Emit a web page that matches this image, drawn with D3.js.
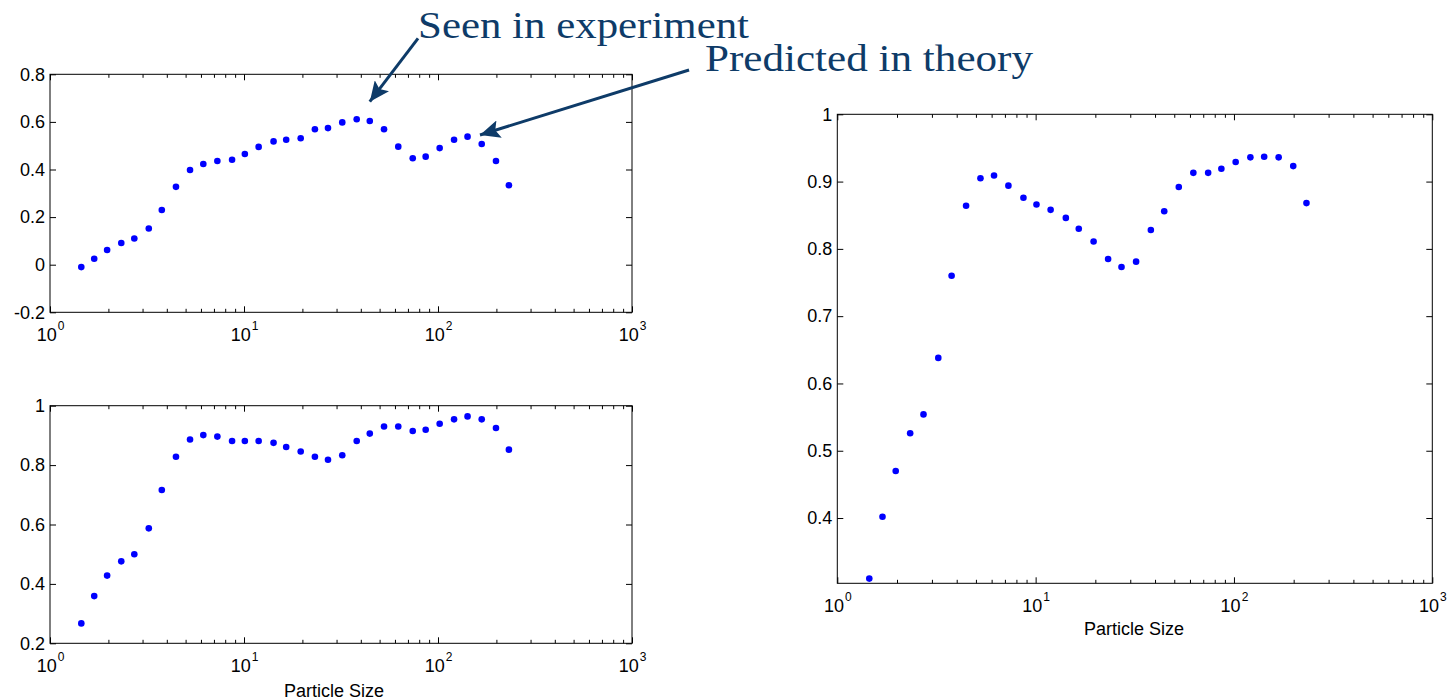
<!DOCTYPE html>
<html lang="en">
<head>
<meta charset="UTF-8">
<title>Particle Size</title>
<script src="https://d3js.org/d3.v7.min.js"></script>
<style>
    body{ margin:0; background:#fff; }
    .tick text, .xlabel{
        font-family: "Liberation Sans", Arial, sans-serif;
        fill:#000;
    }
    .tick line{ stroke:#000; stroke-width:1; }
    .domain{ display:none; }
    .frame{ fill:none; stroke:#000; stroke-width:1; }
    .dot{ fill:#0000ff; }
    .note{ font-family: "Liberation Serif", "Times New Roman", serif; fill:#0e3b68; }
</style>
</head>
<body>
<svg width="1447" height="700"></svg>
<script>
    // particle sizes (shared by all three panels)
    const sizes = [1.45, 1.69, 1.97, 2.33, 2.72, 3.23, 3.77, 4.46, 5.27, 6.17, 7.29, 8.68,
        10.1, 11.9, 14.2, 16.5, 19.6, 23.2, 27.1, 32.1, 38.1, 44.5, 52.7, 62.4, 74.1, 86.4,
        102, 121, 142, 168, 199, 232]

    // top left panel
    const topValues = [-0.01, 0.025, 0.062, 0.091, 0.11, 0.152, 0.23, 0.327, 0.398, 0.423, 0.436, 0.441,
        0.465, 0.495, 0.518, 0.525, 0.531, 0.569, 0.574, 0.598, 0.611, 0.604, 0.569, 0.496, 0.447, 0.454,
        0.49, 0.525, 0.538, 0.507, 0.436, 0.334]

    // bottom left panel
    const bottomValues = [0.267, 0.359, 0.428, 0.476, 0.50, 0.587, 0.716, 0.828, 0.886, 0.901, 0.896, 0.881,
        0.881, 0.881, 0.875, 0.861, 0.846, 0.828, 0.818, 0.833, 0.881, 0.906, 0.93, 0.93, 0.915, 0.919,
        0.939, 0.954, 0.964, 0.954, 0.925, 0.852]

    // right panel
    const rightValues = [0.310, 0.402, 0.470, 0.526, 0.554, 0.638, 0.760, 0.864, 0.905, 0.909, 0.894, 0.876,
        0.866, 0.858, 0.846, 0.830, 0.811, 0.785, 0.773, 0.781, 0.828, 0.856, 0.892, 0.913, 0.913, 0.919,
        0.929, 0.936, 0.937, 0.936, 0.923, 0.868]

    const xTicks = [1, 10, 100, 1000]
    const topTicks = [-0.2, 0, 0.2, 0.4, 0.6, 0.8]
    const bottomTicks = [0.2, 0.4, 0.6, 0.8, 1]
    const rightTicks = [0.4, 0.5, 0.6, 0.7, 0.8, 0.9, 1]

    // annotations, in top-left panel data units
    const notes = [
        {text: "Seen in experiment", x: 78.9, y: 0.951, width: 331, fromX: 78.9, fromY: 0.951, toX: 44.5, toY: 0.685},
        {text: "Predicted in theory", x: 2378, y: 0.815, width: 328, fromX: 1968, fromY: 0.818, toX: 164.6, toY: 0.545}
    ]

    const panels = [
        {left: 50, right: 632, top: 74.3, bottom: 312.3, yDomain: [-0.2, 0.8], yTicks: topTicks, values: topValues, label: null},
        {left: 50, right: 632, top: 405.7, bottom: 643.3, yDomain: [0.2, 1], yTicks: bottomTicks, values: bottomValues, label: [334, 697]},
        {left: 837.3, right: 1432.3, top: 114.3, bottom: 583.3, yDomain: [0.303, 1], yTicks: rightTicks, values: rightValues, label: [1134, 635]}
    ]

    let svg = d3.select("svg")
    const fontSize = 18

    let scales = panels.map(p => {
        let x = d3.scaleLog().domain([1, 1000]).range([p.left, p.right])
        let y = d3.scaleLinear().domain(p.yDomain).range([p.bottom, p.top])
        let g = svg.append("g")
        let w = p.right - p.left, h = p.bottom - p.top
        let minor = x.ticks().filter(t => !xTicks.includes(t))
        let fmt = d => String(+d.toFixed(1))

        // minor ticks, top and bottom
        g.append("g").attr("transform", `translate(0,${p.bottom})`)
            .call(d3.axisBottom(x).tickValues(minor).tickSize(-3.5).tickFormat(""))
        g.append("g").attr("transform", `translate(0,${p.top})`)
            .call(d3.axisTop(x).tickValues(minor).tickSize(-3.5).tickFormat(""))
        g.append("g").attr("transform", `translate(0,${p.top})`)
            .call(d3.axisTop(x).tickValues(xTicks).tickSize(-6).tickFormat(""))

        // major x ticks with 10^n labels
        let bottomAxis = g.append("g").attr("transform", `translate(0,${p.bottom})`)
            .call(d3.axisBottom(x).tickValues(xTicks).tickSize(-6).tickFormat(""))
        bottomAxis.selectAll(".tick text").remove()
        bottomAxis.selectAll(".tick").append("text")
            .attr("y", 28.5)
            .attr("text-anchor", "middle")
            .style("font-size", fontSize + "px")
            .each(function (d) {
                let t = d3.select(this)
                t.append("tspan").text("10")
                t.append("tspan").attr("dx", 1).attr("dy", -11).style("font-size", "12px")
                    .text(Math.round(Math.log10(d)))
            })

        // y axes
        g.append("g").attr("transform", `translate(${p.left},0)`)
            .call(d3.axisLeft(y).tickValues(p.yTicks).tickSize(-6).tickPadding(5).tickFormat(fmt))
            .selectAll("text").style("font-size", fontSize + "px")
        g.append("g").attr("transform", `translate(${p.right},0)`)
            .call(d3.axisRight(y).tickValues(p.yTicks).tickSize(-6).tickFormat(""))

        g.append("rect").attr("class", "frame")
            .attr("x", p.left).attr("y", p.top).attr("width", w).attr("height", h)

        g.append("g").selectAll("circle")
            .data(p.values)
            .enter()
            .append("circle")
            .attr("class", "dot")
            .attr("cx", (d, i) => x(sizes[i]))
            .attr("cy", d => y(d))
            .attr("r", 3.3)

        if (p.label) {
            g.append("text").attr("class", "xlabel")
                .attr("x", p.label[0]).attr("y", p.label[1])
                .attr("text-anchor", "middle")
                .style("font-size", "18px")
                .text("Particle Size")
        }
        return {x: x, y: y}
    })

    // arrows + notes on the top-left panel
    let sx = scales[0].x, sy = scales[0].y
    svg.append("defs").append("marker")
        .attr("id", "head")
        .attr("markerUnits", "userSpaceOnUse")
        .attr("markerWidth", 22).attr("markerHeight", 18)
        .attr("refX", 20).attr("refY", 9)
        .attr("orient", "auto")
        .append("path")
        .attr("d", "M0,0 L20,9 L0,18 L4,9 Z")
        .attr("fill", "#0e3b68")

    svg.append("g").selectAll("line")
        .data(notes)
        .enter()
        .append("line")
        .attr("x1", d => sx(d.fromX)).attr("y1", d => sy(d.fromY))
        .attr("x2", d => sx(d.toX)).attr("y2", d => sy(d.toY))
        .attr("stroke", "#0e3b68")
        .attr("stroke-width", 3)
        .attr("marker-end", "url(#head)")

    svg.append("g").selectAll("text")
        .data(notes)
        .enter()
        .append("text")
        .attr("class", "note")
        .attr("x", d => sx(d.x)).attr("y", d => sy(d.y))
        .attr("textLength", d => d.width)
        .attr("lengthAdjust", "spacingAndGlyphs")
        .style("font-size", "38px")
        .text(d => d.text)
</script>
</body>
</html>
